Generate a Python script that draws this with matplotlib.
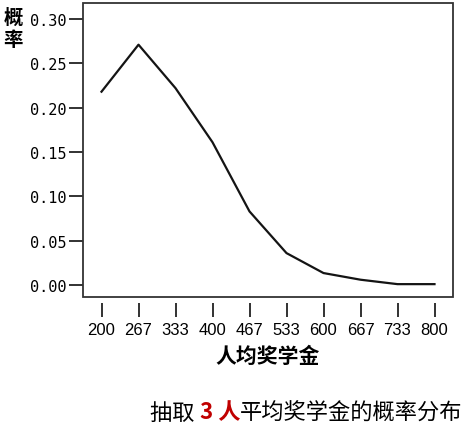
import matplotlib.pyplot as plt
from matplotlib.patches import Rectangle

# average scholarship (category labels) and probability
scholarship = ['200', '267', '333', '400', '467', '533', '600', '667', '733', '800']
prob = [0.218, 0.271, 0.222, 0.161, 0.083, 0.036, 0.0135, 0.006, 0.001, 0.001]
y_ticks = [0.00, 0.05, 0.10, 0.15, 0.20, 0.25, 0.30]

cjk = ['Noto Sans CJK SC', 'DejaVu Sans']

fig = plt.figure(figsize=(4.65, 4.27), dpi=100)
ax = fig.add_axes([83 / 465, 1 - 298 / 427, 370 / 465, 294 / 427])

x = list(range(len(scholarship)))
ax.plot(x, prob, color='#141414', lw=1.6)

ax.set_xlim(-0.5, len(scholarship) - 0.5)
ax.set_ylim(-0.0135, 0.318)

# frame around plot area
for s in ax.spines.values():
    s.set_visible(False)
ax.add_patch(Rectangle((0, 0), 1, 1, transform=ax.transAxes, fill=False,
                       edgecolor='#333333', lw=1.3, clip_on=False, zorder=5))
ax.spines['bottom'].set_position(('outward', 4))

ax.set_xticks(x)
ax.set_xticklabels(scholarship, family='Liberation Sans', fontsize=12)
ax.set_yticks(y_ticks)
ax.set_yticklabels([f'{v:.2f}' for v in y_ticks], family='DejaVu Sans Mono', fontsize=11)
ax.tick_params(axis='x', length=10, width=1.3, pad=4, color='#222222')
ax.tick_params(axis='y', length=10, width=1.3, pad=2, color='#222222')

ax.set_xlabel('人均奖学金', family=cjk, fontsize=15, fontweight='bold', labelpad=6)

# vertical y label
fig.text(13 / 465, 1 - 18 / 427, '概', family=cjk, fontsize=14, fontweight='bold',
         ha='center', va='center')
fig.text(13 / 465, 1 - 41 / 427, '率', family=cjk, fontsize=14, fontweight='bold',
         ha='center', va='center')

# caption with red highlighted part
parts = [('抽取 ', 'black', 'normal'), ('3 人', '#c00000', 'bold'),
         ('平均奖学金的概率分布', 'black', 'normal')]
fig.canvas.draw()
renderer = fig.canvas.get_renderer()
xpos = 150
for txt, col, wt in parts:
    t = fig.text(xpos / 465, 1 - 413 / 427, txt, family=cjk, fontsize=16,
                 color=col, fontweight=wt, ha='left', va='center')
    xpos += t.get_window_extent(renderer).width

fig.savefig('out.png', dpi=100)
